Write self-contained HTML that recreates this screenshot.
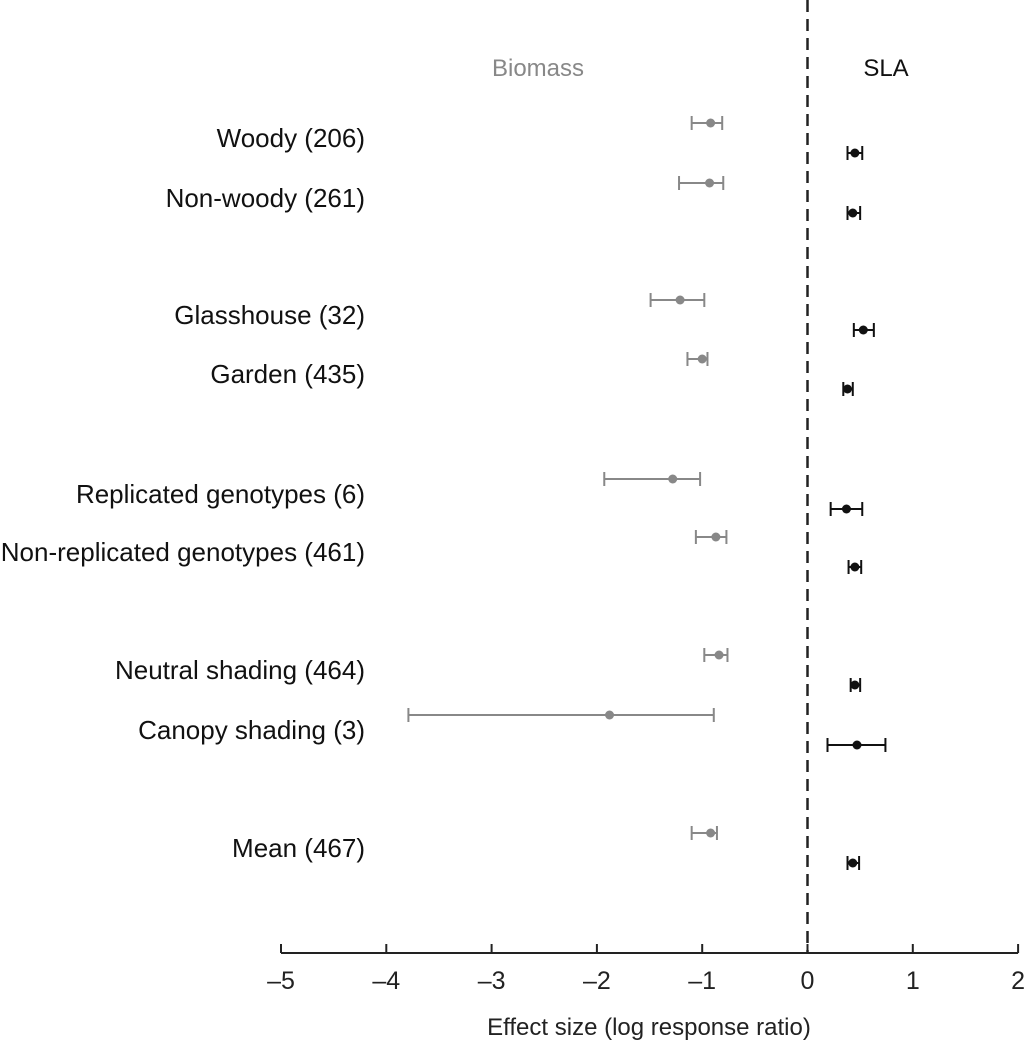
<!DOCTYPE html>
<html><head><meta charset="utf-8"><style>
body{margin:0;background:#fff}
svg{display:block;font-family:"Liberation Sans",sans-serif}
</style></head><body>
<svg id="c" width="1024" height="1041"></svg>
<script>
const categories=["Woody (206)","Non-woody (261)","Glasshouse (32)","Garden (435)","Replicated genotypes (6)","Non-replicated genotypes (461)","Neutral shading (464)","Canopy shading (3)","Mean (467)"];
const biomassMean=[-0.92,-0.93,-1.21,-1.00,-1.28,-0.87,-0.84,-1.88,-0.92];
const biomassLow=[-1.10,-1.22,-1.49,-1.14,-1.93,-1.06,-0.98,-3.79,-1.10];
const biomassHigh=[-0.81,-0.80,-0.98,-0.95,-1.02,-0.77,-0.76,-0.89,-0.86];
const slaMean=[0.45,0.43,0.53,0.38,0.37,0.45,0.45,0.47,0.43];
const slaLow=[0.38,0.38,0.44,0.34,0.22,0.39,0.41,0.19,0.38];
const slaHigh=[0.52,0.50,0.63,0.43,0.52,0.51,0.50,0.74,0.49];
const ticks=[-5,-4,-3,-2,-1,0,1,2];
const rowY=[138,198,315,374,494,552,670,730,848];
const NS="http://www.w3.org/2000/svg";
const svg=document.getElementById('c');
const X=v=>807.5+v*105.3;
function el(t,a,txt){const e=document.createElementNS(NS,t);for(const k in a)e.setAttribute(k,a[k]);if(txt!=null)e.textContent=txt;svg.appendChild(e);return e;}
let e=el('line',{x1:X(0),x2:X(0),y1:0,y2:953,stroke:'#222','stroke-width':2.5,'stroke-dasharray':'12,7'});

e=el('line',{x1:X(-5),x2:X(2),y1:953,y2:953,stroke:'#222','stroke-width':2});

ticks.forEach(t=>{
 let l=el('line',{x1:X(t),x2:X(t),y1:944,y2:953,stroke:'#222','stroke-width':2});
 
 let s=el('text',{x:X(t),y:989,'text-anchor':'middle','font-size':25,fill:'#222'},t<0?'\u2013'+(-t):String(t));
 
});
e=el('text',{x:649,y:1035,'text-anchor':'middle','font-size':24,fill:'#222'},'Effect size (log response ratio)');

e=el('text',{x:538,y:76,'text-anchor':'middle','font-size':24,fill:'#888'},'Biomass');

e=el('text',{x:886,y:76,'text-anchor':'middle','font-size':24,fill:'#111'},'SLA');

function bar(y,lo,hi,m,col,name){
 const g=document.createElementNS(NS,'g');svg.appendChild(g);
 
 
 const a={stroke:col,'stroke-width':2};
 [[X(lo),y,X(hi),y],[X(lo),y-7,X(lo),y+7],[X(hi),y-7,X(hi),y+7]].forEach(p=>{
  const l=document.createElementNS(NS,'line');l.setAttribute('x1',p[0]);l.setAttribute('y1',p[1]);l.setAttribute('x2',p[2]);l.setAttribute('y2',p[3]);
  for(const k in a)l.setAttribute(k,a[k]);g.appendChild(l);});
 const c=document.createElementNS(NS,'circle');c.setAttribute('cx',X(m));c.setAttribute('cy',y);c.setAttribute('r',4.5);c.setAttribute('fill',col);g.appendChild(c);
}
categories.forEach((c,i)=>{
 let t=el('text',{x:365,y:rowY[i]+9,'text-anchor':'end','font-size':26,fill:'#111'},c);
 
 bar(rowY[i]-15,biomassLow[i],biomassHigh[i],biomassMean[i],'#888','biomass-errorbar');
 bar(rowY[i]+15,slaLow[i],slaHigh[i],slaMean[i],'#111','sla-errorbar');
});
</script>
</body></html>
